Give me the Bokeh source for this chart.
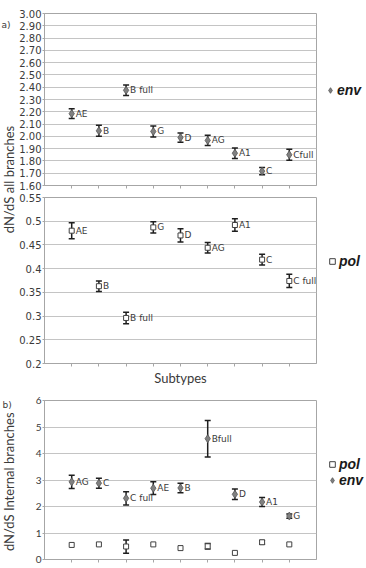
import math
from bokeh.plotting import figure
from bokeh.models import (ColumnDataSource, Range1d, FixedTicker, NumeralTickFormatter,
                          Whisker, TeeHead, Legend, LegendItem, Label, GridBox)
from bokeh.core.properties import value
from bokeh.embed import file_html
from bokeh.resources import INLINE

# ---------------- data ----------------
# a) dN/dS all branches — env
env_a_subtypes = ["AE", "B", "B full", "G", "D", "AG", "A1", "C", "Cfull"]
env_a_value = [2.185, 2.045, 2.375, 2.04, 1.99, 1.967, 1.863, 1.717, 1.85]
env_a_err = [0.040, 0.045, 0.043, 0.045, 0.037, 0.041, 0.043, 0.030, 0.045]

# a) dN/dS all branches — pol
pol_a_subtypes = ["AE", "B", "B full", "G", "D", "AG", "A1", "C", "C full"]
pol_a_value = [0.480, 0.363, 0.296, 0.487, 0.470, 0.444, 0.492, 0.419, 0.374]
pol_a_err = [0.017, 0.011, 0.012, 0.012, 0.014, 0.011, 0.013, 0.0115, 0.014]

# b) dN/dS internal branches
b_subtypes = ["AG", "C", "C full", "AE", "B", "Bfull", "D", "A1", "G"]
env_b_value = [2.93, 2.88, 2.31, 2.69, 2.70, 4.56, 2.46, 2.17, 1.64]
env_b_err = [0.25, 0.19, 0.25, 0.24, 0.18, 0.69, 0.20, 0.17, 0.08]
pol_b_value = [0.55, 0.57, 0.49, 0.57, 0.43, 0.50, 0.25, 0.65, 0.57]
pol_b_err = [0.0, 0.0, 0.25, 0.0, 0.0, 0.10, 0.0, 0.07, 0.0]

env_a_ticks = [1.6 + 0.1 * i for i in range(15)]
pol_a_ticks = [0.2 + 0.05 * i for i in range(8)]
b_ticks = [0, 1, 2, 3, 4, 5, 6]

# ---------------- style ----------------
GRID = "#c4c4c4"
OUTLINE = "#a6a6a6"
TXT = "#3a3a3a"
ENV_FILL = "#808080"
ENV_LINE = "#555555"
POL_LINE = "#404040"
BAR = "#1e1e1e"


def base_fig(height, top, frame_h, yrange, yticks, fmt, tick_font, tick_size):
    p = figure(width=301, height=height, x_range=Range1d(0, 10), y_range=Range1d(*yrange),
               output_backend="svg", toolbar_location=None,
               min_border_left=25, min_border_right=1, min_border_top=top,
               min_border_bottom=height - top - frame_h)
    p.outline_line_color = OUTLINE
    p.outline_line_width = 1
    p.background_fill_color = "white"
    p.border_fill_color = "white"
    p.xgrid.visible = False
    p.ygrid.ticker = FixedTicker(ticks=yticks)
    p.ygrid.grid_line_color = GRID
    p.ygrid.grid_line_width = 1
    ya = p.yaxis[0]
    ya.ticker = FixedTicker(ticks=yticks)
    ya.formatter = NumeralTickFormatter(format=fmt)
    ya.major_label_text_font = tick_font
    ya.major_label_text_font_size = tick_size
    ya.major_label_text_color = TXT
    ya.major_label_standoff = 1
    ya.major_tick_out = 2
    ya.major_tick_in = 0
    ya.minor_tick_line_color = None
    ya.axis_line_color = OUTLINE
    ya.major_tick_line_color = OUTLINE
    xa = p.xaxis[0]
    xa.ticker = FixedTicker(ticks=list(range(1, 10)))
    xa.major_label_text_font_size = "1px"
    xa.major_label_text_color = None
    xa.major_label_standoff = 0
    xa.major_tick_out = 3
    xa.major_tick_in = 0
    xa.minor_tick_line_color = None
    xa.axis_line_color = OUTLINE
    xa.major_tick_line_color = OUTLINE
    return p


def env_style():
    return dict(marker="diamond", size=8, fill_color=ENV_FILL, line_color=ENV_LINE, line_width=0.8)


def pol_style():
    return dict(marker="square", size=5, fill_color="white", line_color=POL_LINE, line_width=1)


def add_series(p, labels, vals, errs, kind, show_labels=True):
    xs = list(range(1, len(vals) + 1))
    wx = [x for x, e in zip(xs, errs) if e > 0]
    wu = [v + e for v, e in zip(vals, errs) if e > 0]
    wl = [v - e for v, e in zip(vals, errs) if e > 0]
    wsrc = ColumnDataSource(dict(x=wx, upper=wu, lower=wl))
    w = Whisker(source=wsrc, base="x", upper="upper", lower="lower",
                line_color=BAR, line_width=1.5,
                upper_head=TeeHead(size=6, line_color=BAR, line_width=1.5),
                lower_head=TeeHead(size=6, line_color=BAR, line_width=1.5))
    p.add_layout(w)
    src = ColumnDataSource(dict(x=xs, y=vals, label=labels))
    style = env_style() if kind == "env" else pol_style()
    p.scatter("x", "y", source=src, **style)
    if show_labels:
        p.text("x", "y", text="label", source=src, x_offset=4,
               text_baseline="middle", text_align="left",
               text_font=value("DejaVu Sans"), text_font_size="9px", text_color=TXT)


def strip(width, height):
    s = figure(width=width, height=height, x_range=Range1d(0, width), y_range=Range1d(0, height),
               output_backend="svg", toolbar_location=None, min_border=0,
               x_axis_type=None, y_axis_type=None)
    s.outline_line_color = None
    s.border_fill_color = "white"
    return s


def legend_strip(height, kinds, loc):
    s = strip(49, height)
    items = []
    for kind in kinds:
        style = env_style() if kind == "env" else pol_style()
        # legend proxy: one point lying outside the strip's visible range
        r = s.scatter(x=[-1000], y=[-1000], **style)
        items.append(LegendItem(label=kind, renderers=[r]))
    leg = Legend(items=items, location=loc, orientation="vertical",
                 label_text_font="Liberation Sans", label_text_font_style="bold italic",
                 label_text_font_size="14px", label_text_color="#1a1a1a",
                 glyph_width=14, glyph_height=16, label_height=16, label_standoff=0,
                 padding=0, margin=0, spacing=0,
                 border_line_color=None, background_fill_alpha=0)
    s.add_layout(leg)
    return s


# ---------------- panel a, env ----------------
p1 = base_fig(190, 13, 172, (1.6, 3.0), env_a_ticks, "0.00", "DejaVu Sans", "10px")
add_series(p1, env_a_subtypes, env_a_value, env_a_err, "env")
l1 = legend_strip(190, ["env"], (6, 87))

# ---------------- panel a, pol ----------------
p2 = base_fig(200, 7, 166, (0.2, 0.55), pol_a_ticks, "0.[00]", "DejaVu Sans", "10px")
add_series(p2, pol_a_subtypes, pol_a_value, pol_a_err, "pol")
l2 = legend_strip(200, ["pol"], (8, 94))
xa2 = p2.xaxis[0]
xa2.axis_label = "Subtypes"
xa2.axis_label_text_font = "Lato"
xa2.axis_label_text_font_size = "13px"
xa2.axis_label_text_font_style = "normal"
xa2.axis_label_text_color = TXT
xa2.axis_label_standoff = 3

# ---------------- panel b ----------------
p3 = base_fig(178, 10, 159, (0, 6), b_ticks, "0", "Lato", "10px")
add_series(p3, b_subtypes, pol_b_value, pol_b_err, "pol", show_labels=False)
add_series(p3, b_subtypes, env_b_value, env_b_err, "env")
l3 = legend_strip(178, ["pol", "env"], (8, 71))
p3.add_layout(Label(x=5, y=-0.1, text="Subtypes", text_align="center", text_baseline="top",
                    text_font="Lato", text_font_size="13px", text_color=TXT))

# ---------------- left label strips ----------------
sa = strip(16, 390)
sa.add_layout(Label(x=8, y=390 - 185, text="dN/dS all branches", angle=math.pi / 2,
                    text_align="center", text_baseline="middle",
                    text_font="Lato", text_font_size="13px", text_color=TXT))
sa.add_layout(Label(x=1, y=390 - 13, text="a)", text_align="left", text_baseline="middle",
                    text_font="DejaVu Sans", text_font_size="9px", text_color=TXT))

sb = strip(16, 178)
sb.add_layout(Label(x=8, y=178 - (481 - 390), text="dN/dS Internal branches", angle=math.pi / 2,
                    text_align="center", text_baseline="middle",
                    text_font="Lato", text_font_size="13px", text_color=TXT))
sb.add_layout(Label(x=2, y=178 - 5, text="b)", text_align="left", text_baseline="middle",
                    text_font="DejaVu Sans", text_font_size="9px", text_color=TXT))

layout = GridBox(children=[(sa, 0, 0, 2, 1), (p1, 0, 1), (p2, 1, 1), (l1, 0, 2), (l2, 1, 2),
                           (sb, 2, 0), (p3, 2, 1), (l3, 2, 2)],
                 spacing=0)

open("out.html", "w").write(file_html(layout, INLINE))
